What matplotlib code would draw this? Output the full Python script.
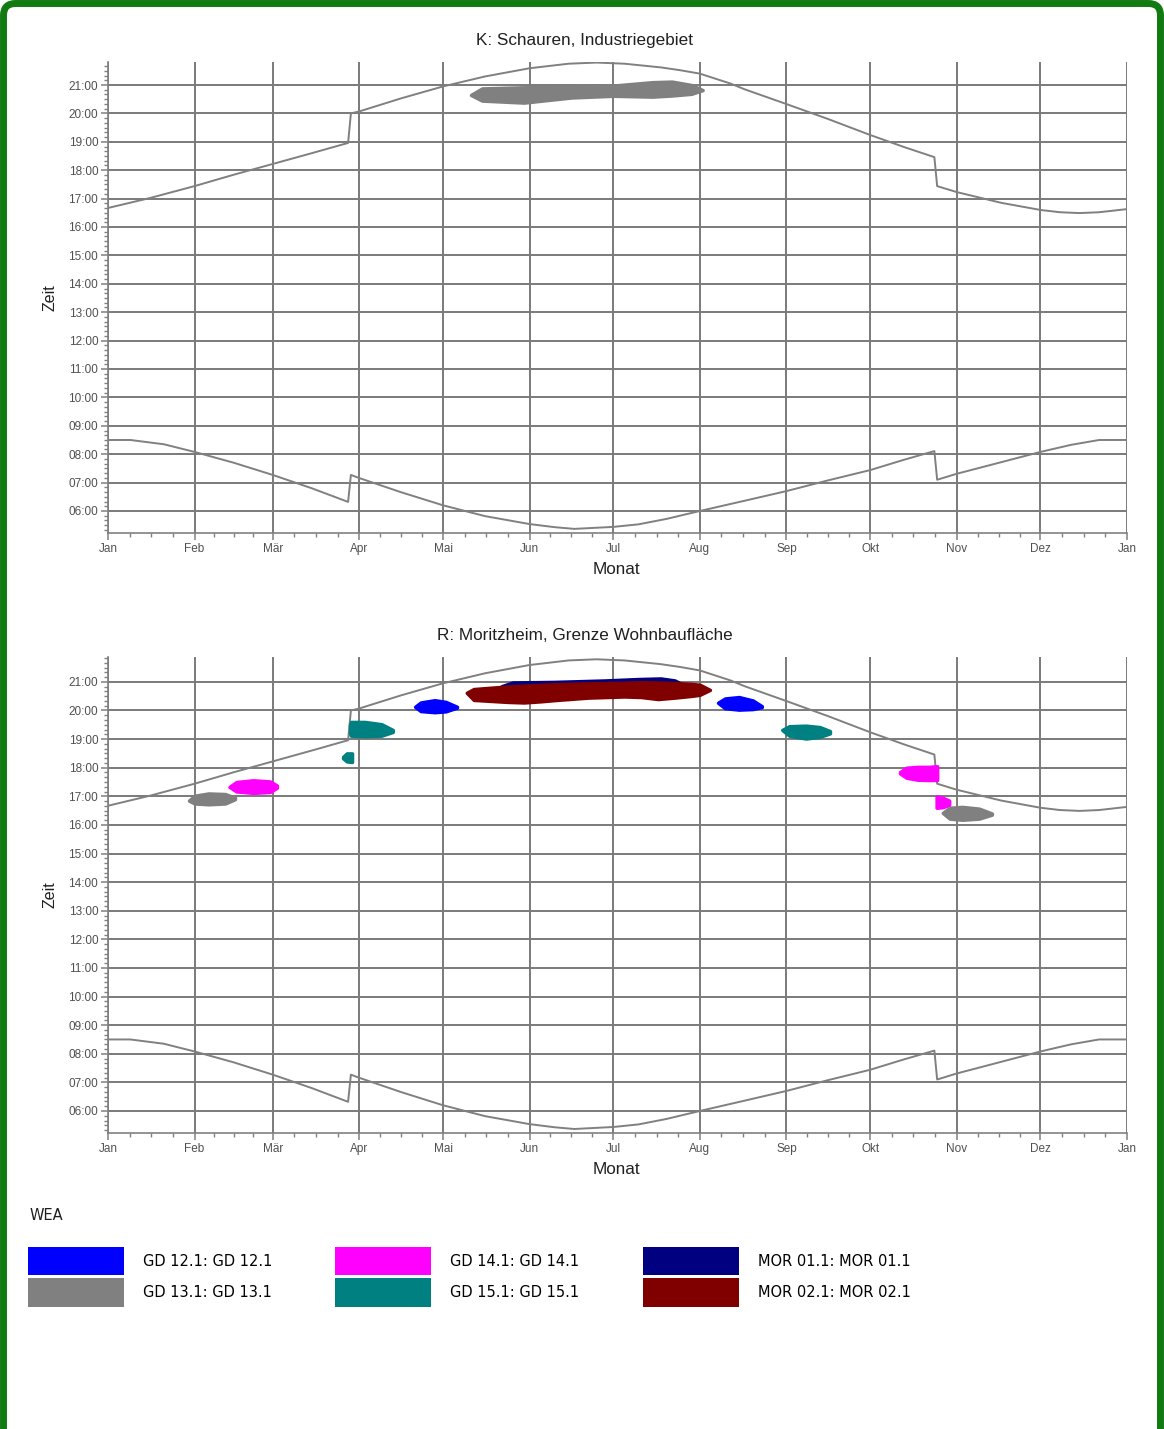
import numpy as np
import matplotlib.pyplot as plt
from matplotlib.patches import Patch, FancyBboxPatch
from matplotlib.ticker import MultipleLocator, FixedLocator

# Monate (Tag im Jahr) und Beschriftung
monat_start = [0, 31, 59, 90, 120, 151, 181, 212, 243, 273, 304, 334, 365]
monat_labels = ['Jan', 'Feb', 'Mär', 'Apr', 'Mai', 'Jun', 'Jul', 'Aug',
                'Sep', 'Okt', 'Nov', 'Dez', 'Jan']
stunden = list(range(6, 22))

# Sonnenuntergang (Tag, Uhrzeit in h)
su_tage = [0, 15, 31, 45, 59, 73, 86, 87, 90, 105, 120, 135, 151, 165, 175, 185,
           198, 205, 212, 223, 228, 243, 258, 273, 285, 296, 297, 304, 320, 334,
           341, 348, 355, 365]
su_zeit = [16.67, 17.02, 17.44, 17.84, 18.22, 18.6, 18.96, 20.0, 20.07, 20.53,
           20.95, 21.3, 21.59, 21.75, 21.79, 21.75, 21.62, 21.52, 21.4, 21.05,
           20.85, 20.33, 19.8, 19.24, 18.82, 18.46, 17.44, 17.23, 16.85, 16.6,
           16.52, 16.49, 16.52, 16.63]

# Sonnenaufgang (Tag, Uhrzeit in h)
sa_tage = [0, 8, 20, 31, 45, 59, 73, 86, 87, 90, 105, 120, 135, 151, 160, 167,
           181, 190, 200, 212, 228, 243, 258, 273, 285, 296, 297, 304, 320, 334,
           345, 355, 365]
sa_zeit = [8.5, 8.5, 8.35, 8.08, 7.7, 7.27, 6.8, 6.32, 7.27, 7.16, 6.66, 6.2,
           5.82, 5.54, 5.43, 5.37, 5.44, 5.53, 5.72, 6.0, 6.36, 6.7, 7.08, 7.44,
           7.8, 8.11, 7.1, 7.31, 7.72, 8.08, 8.33, 8.5, 8.5]

# Schattenwurf K: Schauren (Tage, obere Kante, untere Kante)
k_gd13_tage = [130, 134, 149, 166, 181, 195, 202, 209, 213]
k_gd13_oben = [20.65, 20.88, 20.92, 20.94, 20.98, 21.1, 21.12, 21.0, 20.82]
k_gd13_unten = [20.65, 20.45, 20.38, 20.56, 20.62, 20.59, 20.63, 20.69, 20.82]

# Schattenwurf R: Moritzheim
r_gd13_a = ([29, 31, 36, 42, 45.5], [16.85, 17.02, 17.1, 17.08, 16.95], [16.85, 16.75, 16.72, 16.75, 16.9])
r_gd14_a = ([43.5, 46, 52, 58, 60.5], [17.33, 17.5, 17.56, 17.52, 17.38], [17.33, 17.17, 17.12, 17.15, 17.3])
r_gd15_a = ([84.2, 85.5, 87.4], [18.38, 18.5, 18.5], [18.33, 18.22, 18.2])
r_gd15_b = ([86.7, 87, 92, 98, 102], [19.5, 19.6, 19.6, 19.52, 19.32], [19.2, 19.12, 19.1, 19.12, 19.25])
r_gd12_a = ([110, 112, 117, 121, 125], [20.13, 20.28, 20.36, 20.3, 20.13], [20.13, 19.98, 19.94, 19.97, 20.1])
r_mor01 = ([141, 145, 160, 178, 190, 198, 203, 206], [20.85, 20.98, 21.0, 21.05, 21.1, 21.12, 21.05, 20.9],
           [20.75, 20.7, 20.7, 20.7, 20.7, 20.7, 20.7, 20.75])
r_mor02 = ([128.5, 131, 143, 149, 155, 161, 172, 185, 191, 197, 203, 209, 212, 215.6],
           [20.62, 20.75, 20.84, 20.87, 20.9, 20.92, 20.95, 20.97, 20.99, 20.98, 20.96, 20.93, 20.9, 20.72],
           [20.62, 20.37, 20.3, 20.28, 20.32, 20.37, 20.45, 20.49, 20.47, 20.4, 20.45, 20.51, 20.55, 20.72])
r_gd12_b = ([218.5, 221, 226, 231, 234.2], [20.27, 20.42, 20.47, 20.35, 20.15], [20.27, 20.08, 20.03, 20.05, 20.12])
r_gd15_c = ([241.5, 244, 250, 255, 258.6], [19.32, 19.45, 19.47, 19.42, 19.28], [19.32, 19.12, 19.02, 19.08, 19.2])
r_gd14_b = ([283.7, 286, 290, 294, 296.8, 297], [17.85, 18.0, 18.03, 18.03, 18.05, 18.05],
            [17.8, 17.65, 17.58, 17.57, 17.57, 17.57])
r_gd14_c = ([296.8, 299, 301.3], [17.0, 16.95, 16.85], [16.6, 16.62, 16.7])
r_gd13_b = ([299, 301.5, 306, 312, 316.6], [16.42, 16.6, 16.63, 16.57, 16.4], [16.42, 16.22, 16.18, 16.22, 16.36])

# Legende
wea_namen = ['GD 12.1: GD 12.1', 'GD 13.1: GD 13.1', 'GD 14.1: GD 14.1',
             'GD 15.1: GD 15.1', 'MOR 01.1: MOR 01.1', 'MOR 02.1: MOR 02.1']
wea_farben = ['#0000ff', '#808080', '#ff00ff', '#008080', '#000080', '#800000']
farbe = dict(zip(['GD12', 'GD13', 'GD14', 'GD15', 'MOR01', 'MOR02'], wea_farben))

W, H = 1164, 1429
GRAU = '#808080'
fig = plt.figure(figsize=(W / 100, H / 100), dpi=100)


def panel(ax, titel, titel_y, ylim, flecken):
    ax.set_xlim(0, 365)
    ax.set_ylim(*ylim)
    ax.set_axisbelow(True)
    ax.grid(True, which='major', color='#7a7a7a', lw=1.4)
    for s in ['top', 'right']:
        ax.spines[s].set_visible(False)
    for s in ['left', 'bottom']:
        ax.spines[s].set_color(GRAU)
        ax.spines[s].set_linewidth(1.2)

    ax.set_xticks(monat_start)
    ax.set_xticklabels(monat_labels)
    viertel = []
    for a, b in zip(monat_start[:-1], monat_start[1:]):
        viertel += [a + (b - a) * k / 4 for k in (1, 2, 3)]
    ax.xaxis.set_minor_locator(FixedLocator(viertel))
    ax.set_yticks(stunden)
    ax.set_yticklabels(['%02d:00' % h for h in stunden])
    ax.yaxis.set_minor_locator(MultipleLocator(1 / 6))
    ax.tick_params(which='major', direction='out', length=5, width=1.1, color=GRAU,
                   labelsize=8.5, labelcolor='#505050', pad=2)
    ax.tick_params(which='minor', direction='out', length=3, width=1, color=GRAU)
    for lab in ax.get_xticklabels() + ax.get_yticklabels():
        lab.set_family('Liberation Sans')

    for tage, oben, unten, c in flecken:
        ax.fill_between(tage, unten, oben, color=c, lw=2.5, edgecolor=c,
                        joinstyle='round', capstyle='round', zorder=3)

    ax.plot(su_tage, su_zeit, color=GRAU, lw=1.4, zorder=2)
    ax.plot(sa_tage, sa_zeit, color=GRAU, lw=1.4, zorder=2)

    pos = ax.get_position()
    fig.text(585 / W, 1 - titel_y / H, titel, ha='center', va='center',
             fontsize=12.3, family='Liberation Sans', color='#202020')
    fig.text(50 / W, (pos.y0 + pos.y1) / 2, 'Zeit', rotation=90, ha='center', va='center',
             fontsize=11.5, family='Liberation Sans', color='#202020')
    fig.text(616 / W, pos.y0 - 37 / H, 'Monat', ha='center', va='center',
             fontsize=12.3, family='Liberation Sans', color='#202020')


ax1 = fig.add_axes([108 / W, 1 - 533 / H, 1019 / W, 471 / H])
panel(ax1, 'K: Schauren, Industriegebiet', 40, (5.225, 21.81),
      [(k_gd13_tage, k_gd13_oben, k_gd13_unten, farbe['GD13'])])

ax2 = fig.add_axes([108 / W, 1 - 1133 / H, 1019 / W, 476 / H])
panel(ax2, 'R: Moritzheim, Grenze Wohnbaufläche', 636, (5.23, 21.87), [
    (*r_gd13_a, farbe['GD13']), (*r_gd14_a, farbe['GD14']),
    (*r_gd15_a, farbe['GD15']), (*r_gd15_b, farbe['GD15']),
    (*r_gd12_a, farbe['GD12']), (*r_mor01, farbe['MOR01']),
    (*r_mor02, farbe['MOR02']), (*r_gd12_b, farbe['GD12']),
    (*r_gd15_c, farbe['GD15']), (*r_gd14_b, farbe['GD14']),
    (*r_gd14_c, farbe['GD14']), (*r_gd13_b, farbe['GD13']),
])

# Legende unten
fig.text(30 / W, 1 - 1216 / H, 'WEA', ha='left', va='center', fontsize=10.5,
         family='DejaVu Sans', color='#202020')
handles = [Patch(facecolor=c, edgecolor='none') for c in wea_farben]
fs = 10.5 * 100 / 72
fig.legend(handles, wea_namen, ncol=3, loc='upper left',
           bbox_to_anchor=(28 / W, 1 - 1247 / H), frameon=False,
           prop={'family': 'DejaVu Sans', 'size': 10.5},
           handlelength=96 / fs, handleheight=38 / fs, handletextpad=19 / fs,
           labelspacing=3 / fs, columnspacing=63 / fs, borderpad=0, borderaxespad=0)

# gruener Rahmen
rahmen = FancyBboxPatch((3.5, -30), W - 7, H + 26.5,
                        boxstyle='round,pad=0,rounding_size=12',
                        fill=False, ec='#117a11', lw=5, transform=None)
fig.patches.append(rahmen)

fig.savefig('out.png', dpi=100, facecolor='white')
